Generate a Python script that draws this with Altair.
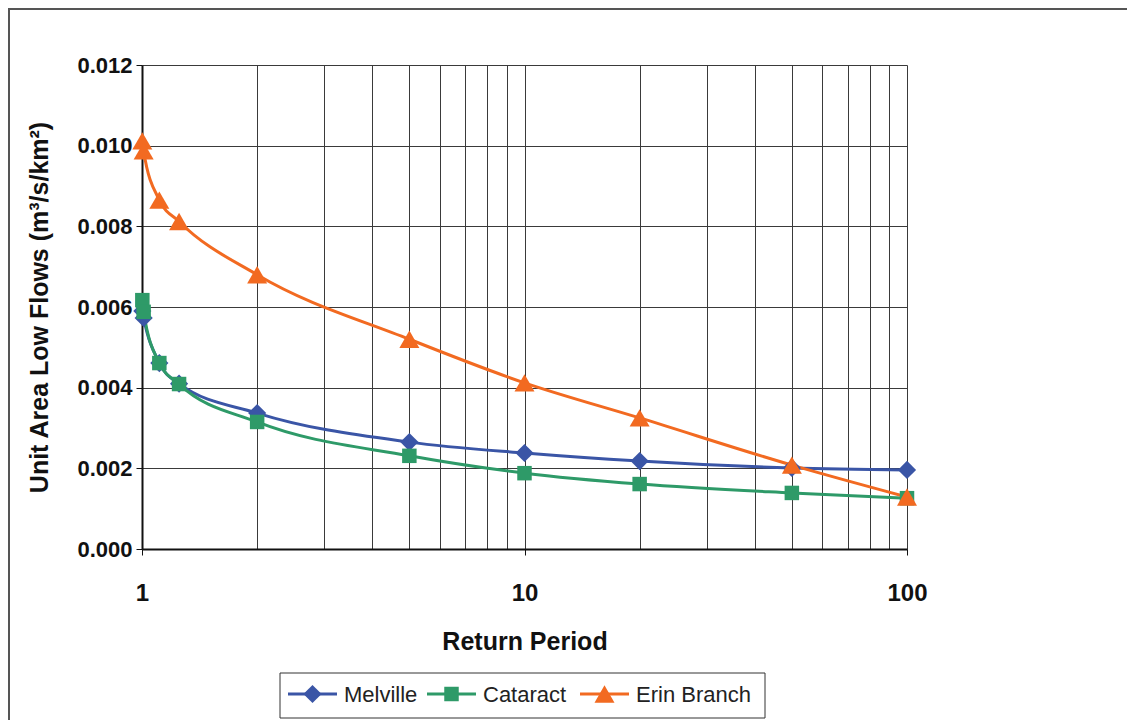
import altair as alt
import pandas as pd

# ---- data ----
return_period = [1.002, 1.01, 1.11, 1.25, 2, 5, 10, 20, 50, 100]
melville = [0.0059, 0.00573, 0.00461, 0.0041, 0.00337, 0.00265, 0.00238, 0.00218, 0.00201, 0.00196]
cataract = [0.00617, 0.00588, 0.00461, 0.00409, 0.00315, 0.00231, 0.00188, 0.00161, 0.00139, 0.00126]
erin = [0.01012, 0.00987, 0.00865, 0.00812, 0.0068, 0.0052, 0.00412, 0.00325, 0.00208, 0.00129]

series_names = ["Melville", "Cataract", "Erin Branch"]
series_values = [melville, cataract, erin]
series_colors = ["#3A55A6", "#2E9A68", "#F26A21"]
series_shapes = ["diamond", "square", "triangle-up"]
series_sizes = [330, 210, 400]

x_grid_values = [1, 2, 3, 4, 5, 6, 7, 8, 9, 10, 20, 30, 40, 50, 60, 70, 80, 90, 100]
y_tick_values = [0.0, 0.002, 0.004, 0.006, 0.008, 0.010, 0.012]

rows = []
for name, vals in zip(series_names, series_values):
    for p, v in zip(return_period, vals):
        rows.append({"series": name, "period": p, "flow": v})
df = pd.DataFrame(rows)

FONT = "Liberation Sans"
W, H = 765, 484

x_enc = alt.X(
    "period:Q",
    scale=alt.Scale(type="log", domain=[1, 100], nice=False),
    axis=alt.Axis(
        values=x_grid_values,
        labelExpr="(datum.value == 1 || datum.value == 10 || datum.value == 100) ? format(datum.value, 'd') : ''",
        tickOpacity={"condition": {"test": "datum.value == 1 || datum.value == 10 || datum.value == 100", "value": 1}, "value": 0},
        labelOverlap=False,
        labelFlush=False,
        title="Return Period",
        titleY=80,
        titleBaseline="top",
        tickSize=6,
        labelPadding=26,
        labelFontSize=24,
        labelFontWeight="bold",
        titleFontSize=25,
        titleFontWeight="bold",
    ),
)
y_enc = alt.Y(
    "flow:Q",
    scale=alt.Scale(domain=[0, 0.012], nice=False),
    axis=alt.Axis(
        values=y_tick_values,
        format=".3f",
        title="Unit Area Low Flows (m³/s/km²)",
        titleX=-90,
        titleBaseline="bottom",
        tickSize=6,
        labelPadding=4,
        labelFontSize=22,
        labelFontWeight="bold",
        titleFontSize=25,
        titleFontWeight="bold",
    ),
)
color_enc = alt.Color(
    "series:N",
    scale=alt.Scale(domain=series_names, range=series_colors),
    legend=None,
)

lines = alt.Chart(df).mark_line(strokeWidth=3, interpolate="monotone").encode(
    x=x_enc, y=y_enc, color=color_enc, detail="series:N"
)
point_layers = []
for name, shp, sz in zip(series_names, series_shapes, series_sizes):
    point_layers.append(
        alt.Chart(df).transform_filter(alt.datum.series == name)
        .mark_point(filled=True, opacity=1, shape=shp, size=sz)
        .encode(x=x_enc, y=y_enc, color=color_enc)
    )

one = pd.DataFrame({"k": [0]})

# outer frame of the chart area
frame = alt.Chart(one).mark_rect(fillOpacity=0, stroke="#555555", strokeWidth=2).encode(
    x=alt.value(-133), x2=alt.value(W + 400), y=alt.value(-56), y2=alt.value(H + 400)
)

# legend box and entries (drawn below the plot)
leg_box = alt.Chart(one).mark_rect(fill="white", stroke="#333333", strokeWidth=1).encode(
    x=alt.value(138), x2=alt.value(623), y=alt.value(608), y2=alt.value(653)
)
legend_layers = [leg_box]
entry_starts = [146, 285, 438]
leg_y = 629
for name, col, shp, sz, x0 in zip(series_names, series_colors, series_shapes, series_sizes, entry_starts):
    legend_layers.append(
        alt.Chart(one).mark_rule(color=col, strokeWidth=3).encode(
            x=alt.value(x0), x2=alt.value(x0 + 49), y=alt.value(leg_y)
        )
    )
    legend_layers.append(
        alt.Chart(one).mark_point(filled=True, opacity=1, color=col, shape=shp, size=sz).encode(
            x=alt.value(x0 + 24.5), y=alt.value(leg_y)
        )
    )
    legend_layers.append(
        alt.Chart(one).mark_text(align="left", baseline="middle", fontSize=22, font=FONT, color="#222222").encode(
            x=alt.value(x0 + 56), y=alt.value(leg_y + 1), text=alt.value(name)
        )
    )

chart = alt.layer(frame, lines, *point_layers, *legend_layers).properties(
    width=W,
    height=H,
    autosize=alt.AutoSizeParams(type="none"),
    padding={"left": 134, "top": 57, "right": 220, "bottom": 171},
).configure(
    font=FONT,
    background="white",
).configure_view(
    stroke=None,
).configure_axis(
    gridColor="#3a3a3a",
    gridWidth=1,
    gridOpacity=1,
    domainColor="#111111",
    domainWidth=2,
    tickColor="#111111",
    tickWidth=1,
    labelColor="#111111",
    titleColor="#111111",
    labelFont=FONT,
    titleFont=FONT,
)

chart.save("out.html", embed_options={"renderer": "svg", "actions": False})
